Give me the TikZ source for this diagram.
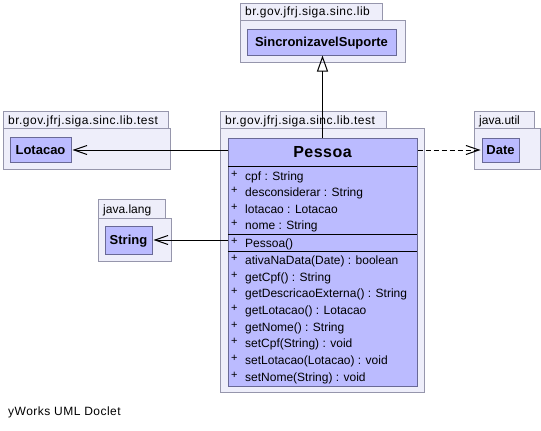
\documentclass[tikz,border=0pt]{standalone}
\usepackage{fontspec}
\setmainfont{Liberation Sans}
\usetikzlibrary{arrows.meta}
\definecolor{pkgfill}{RGB}{238,238,250}
\definecolor{pkgdraw}{RGB}{150,150,172}
\definecolor{clsfill}{RGB}{187,187,255}
\definecolor{clsdraw}{RGB}{105,105,150}
\begin{document}
\begin{tikzpicture}[x=1pt,y=-1pt,
  pkg/.style={draw=pkgdraw,fill=pkgfill,line width=1pt},
  pkglabel/.style={anchor=base west,inner sep=0pt,font=\fontsize{12}{14}\selectfont\addfontfeature{LetterSpace=4}},
  cls/.style={draw=clsdraw,fill=clsfill,line width=1pt,inner sep=0pt,
    text height=9.3pt,text depth=0pt,font=\fontsize{13}{15}\selectfont\bfseries},
  member/.style={anchor=base west,inner sep=0pt,font=\fontsize{12}{14}\selectfont},
  vis/.style={anchor=base west,inner sep=0pt,font=\fontsize{11}{12}\selectfont},
  sep/.style={draw=black,line width=1pt},
  assoc/.style={line width=1pt,-{Straight Barb[length=13pt,width=9pt,line width=1pt]}},
  dep/.style={assoc,dash pattern=on 5pt off 3pt},
  gen/.style={line width=1pt,-{Triangle[open,length=16pt,width=11pt,line width=1pt]}}
]
\useasboundingbox[fill=white] (0,0) rectangle (541,431);

% packages
\path[pkg] (240,3) rectangle (382,20);
\path[pkg] (240,20) rectangle (405,62);
\node[pkglabel] (pkgtop) at (245,16) {br.gov.jfrj.siga.sinc.lib};

\path[pkg] (3,111) rectangle (168,128);
\path[pkg] (3,128) rectangle (170,169);
\node[pkglabel] (pkgleft) at (8,124) {br.gov.jfrj.siga.sinc.lib.test};

\path[pkg] (220,111) rectangle (386,128);
\path[pkg] (220,128) rectangle (424,392);
\node[pkglabel] (pkgmid) at (225,124) {br.gov.jfrj.siga.sinc.lib.test};

\path[pkg] (474,111) rectangle (534,128);
\path[pkg] (474,128) rectangle (540,169);
\node[pkglabel,font=\fontsize{12}{14}\selectfont] (pkgutil) at (479,124) {java.util};

\path[pkg] (98,199) rectangle (165,218);
\path[pkg] (98,218) rectangle (171,261);
\node[pkglabel,font=\fontsize{12}{14}\selectfont] (pkglang) at (103,213) {java.lang};

% classes
\node[cls,minimum width=149pt,minimum height=26pt] (sinc) at (321.5,42) {SincronizavelSuporte};
\node[cls,minimum width=61pt,minimum height=25pt] (lot) at (40.5,150) {Lotacao};
\node[cls,minimum width=37pt,minimum height=24pt] (date) at (500.5,150) {Date};
\node[cls,minimum width=47pt,minimum height=28pt] (str) at (128.5,240) {String};
\node[cls,minimum width=189pt,minimum height=248pt] (pessoa) at (322.5,262) {};

\node[inner sep=0pt,anchor=base,font=\fontsize{16}{18}\selectfont\bfseries\addfontfeature{LetterSpace=3}] (ptitle) at (322.5,157.5) {Pessoa};
\draw[sep] (228,166) -- (417,166);
\draw[sep] (228,234) -- (417,234);
\draw[sep] (228,251) -- (417,251);

\foreach \y/\t [count=\i] in {176/{cpf : String},192/{desconsiderar : String},209/{lotacao : Lotacao},225/{nome : String},243/{Pessoa()},260/{ativaNaData(Date) : boolean},277/{getCpf() : String},293/{getDescricaoExterna() : String},310/{getLotacao() : Lotacao},327/{getNome() : String},343/{setCpf(String) : void},360/{setLotacao(Lotacao) : void},377/{setNome(String) : void}}{
  \node[vis] (v\i) at (231,\y+1.5) {+};
  \node[member] (m\i) at (245,\y+4) {\t};
}

% connectors
\draw[gen] (pessoa.north) -- (pessoa.north |- sinc.south);
\draw[assoc] (pessoa.west |- lot.east) -- ([xshift=1pt]lot.east);
\draw[assoc] (pessoa.west |- str.east) -- ([xshift=1pt]str.east);
\draw[dep] (pessoa.east |- date.west) -- ([xshift=-1pt]date.west);

\node[anchor=base west,inner sep=0pt,font=\fontsize{12}{14}\selectfont\addfontfeature{LetterSpace=4}] (credit) at (8,415) {yWorks UML Doclet};
\end{tikzpicture}
\end{document}
